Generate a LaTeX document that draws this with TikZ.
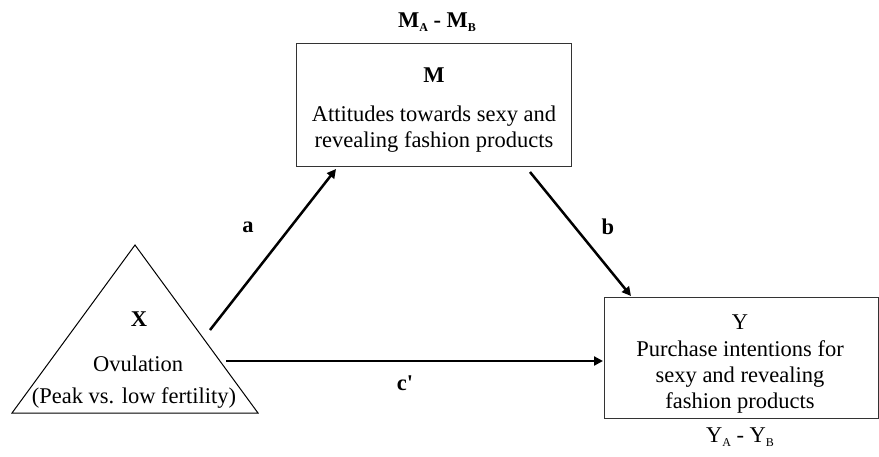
\documentclass[tikz,border=0pt]{standalone}
\usepackage{fontspec}
\setmainfont{Liberation Serif}
\usetikzlibrary{arrows.meta}
\newcommand{\subl}[1]{\raisebox{-0.45ex}{\fontsize{12}{12}\selectfont #1}}
\begin{document}
\begin{tikzpicture}[x=1pt,y=-1pt,
  box/.style={draw=black!80,line width=0.9pt},
  lbl/.style={font=\fontsize{22.5}{26}\selectfont,align=center,inner sep=0pt},
  arr/.style={line width=2.5pt,-{Triangle[length=9pt,width=9pt]}}]
\useasboundingbox (0,0) rectangle (879,456);
% triangle X
\coordinate (tA) at (135,245);
\coordinate (tL) at (12,413);
\coordinate (tR) at (258,413);
\draw[line width=1pt] (tA) -- (tL) -- (tR) -- cycle;
\node[lbl] (xt) at (139,319) {\textbf{X}};
\node[lbl] (xo) at (138,364) {Ovulation};
\node[lbl] (xp) at (134,398) {(Peak vs. low fertility)};
% M box
\draw[box] (296,43) rectangle (571,166);
\node[lbl] (mt) at (434,75) {\textbf{M}};
\node[lbl] (mx) at (434,129) {Attitudes towards sexy and\\revealing fashion products};
\node[lbl] (mab) at (437,22) {\textbf{M\subl{A} - M\subl{B}}};
% Y box
\draw[box] (604,297) rectangle (878,418);
\node[lbl] (yt) at (740,322) {Y};
\node[lbl] (yx) at (740,377) {Purchase intentions for\\sexy and revealing\\fashion products};
\node[lbl] (yab) at (740,437) {Y\subl{A} - Y\subl{B}};
% connectors
\coordinate (as) at (210,330);
\coordinate (ae) at (336,169);
\coordinate (bs) at (530,172);
\coordinate (be) at (631,296);
\coordinate (cs) at (226,361);
\coordinate (ce) at (603,361);
\draw[arr] (as) -- (ae);
\draw[arr] (bs) -- (be);
\draw[arr] (cs) -- (ce);
\node[lbl] (la) at (248,227) {\textbf{a}};
\node[lbl] (lb) at (608,227) {\textbf{b}};
\node[lbl] (lc) at (405,383) {\textbf{c\textquotesingle}};
\end{tikzpicture}
\end{document}
